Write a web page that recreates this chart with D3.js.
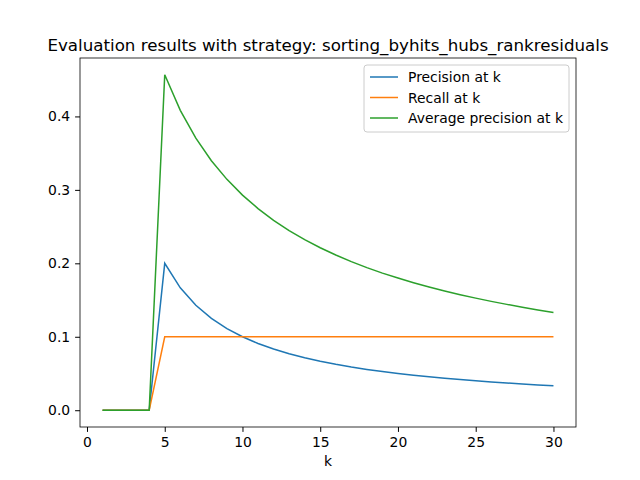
<!DOCTYPE html><html><head><script src="https://cdn.jsdelivr.net/npm/d3@7"></script>
<style>body{margin:0;background:#fff}text{font-family:"DejaVu Sans",sans-serif}</style></head><body>
<script>
const ks=d3.range(1,31);
const precision=[0,0,0,0,.2,.1667,.1429,.125,.1111,.1,.0909,.0833,.0769,.0714,.0667,.0625,.0588,.0556,.0526,.05,.0476,.0455,.0435,.0417,.04,.0385,.037,.0357,.0345,.0333];
const recall=[0,0,0,0,.1,.1,.1,.1,.1,.1,.1,.1,.1,.1,.1,.1,.1,.1,.1,.1,.1,.1,.1,.1,.1,.1,.1,.1,.1,.1];
const avgPrecision=[0,0,0,0,.4567,.4083,.3704,.3397,.3143,.2929,.2745,.2586,.2446,.2323,.2212,.2113,.2023,.1942,.1867,.1799,.1736,.1678,.1624,.1573,.1526,.1482,.1441,.1403,.1366,.1332];
const xTicks=[0,5,10,15,20,25,30], yTicks=[0,.1,.2,.3,.4];
const series=[["Precision at k",precision,"#1f77b4"],["Recall at k",recall,"#ff7f0e"],["Average precision at k",avgPrecision,"#2ca02c"]];
const L=80,R=576,T=58,B=427;
const svg=d3.select("body").append("svg").attr("width",640).attr("height",480);
const x=d3.scaleLinear().domain([-0.45,31.45]).range([L,R]);
const y=d3.scaleLinear().domain([-0.02284,0.47954]).range([B,T]);
svg.append("g").attr("transform",`translate(0,${B})`).call(d3.axisBottom(x).tickValues(xTicks).tickFormat(d3.format("d")).tickSizeOuter(0).tickSize(4.9).tickPadding(4.9));
svg.append("g").attr("transform",`translate(${L},0)`).call(d3.axisLeft(y).tickValues(yTicks).tickFormat(d3.format(".1f")).tickSizeOuter(0).tickSize(4.9).tickPadding(4.9));
svg.selectAll(".tick text").attr("font-size",13.9).attr("fill","#000");
svg.selectAll(".domain").remove();
svg.append("rect").attr("x",L).attr("y",T).attr("width",R-L).attr("height",B-T).attr("fill","none").attr("stroke","#000").attr("stroke-width",0.8);
const line=d3.line().x((d,i)=>x(ks[i])).y(d=>y(d));
series.forEach(s=>svg.append("path").attr("d",line(s[1])).attr("fill","none").attr("stroke",s[2]).attr("stroke-width",1.5));
svg.append("text").attr("x",(L+R)/2).attr("y",T-7).attr("text-anchor","middle").attr("font-size",16.7).text("Evaluation results with strategy: sorting_byhits_hubs_rankresiduals");
svg.append("text").attr("x",(L+R)/2).attr("y",466).attr("text-anchor","middle").attr("font-size",13.9).text("k");
const lg=svg.append("g");
lg.append("rect").attr("x",364).attr("y",65).attr("width",205).attr("height",67).attr("rx",3).attr("fill","#fff").attr("stroke","#ccc");
series.forEach((s,i)=>{const yy=77+i*20.5;
lg.append("line").attr("x1",370).attr("x2",398).attr("y1",yy).attr("y2",yy).attr("stroke",s[2]).attr("stroke-width",1.5);
lg.append("text").attr("x",408).attr("y",yy+5).attr("font-size",13.9).text(s[0]);});
</script></body></html>
